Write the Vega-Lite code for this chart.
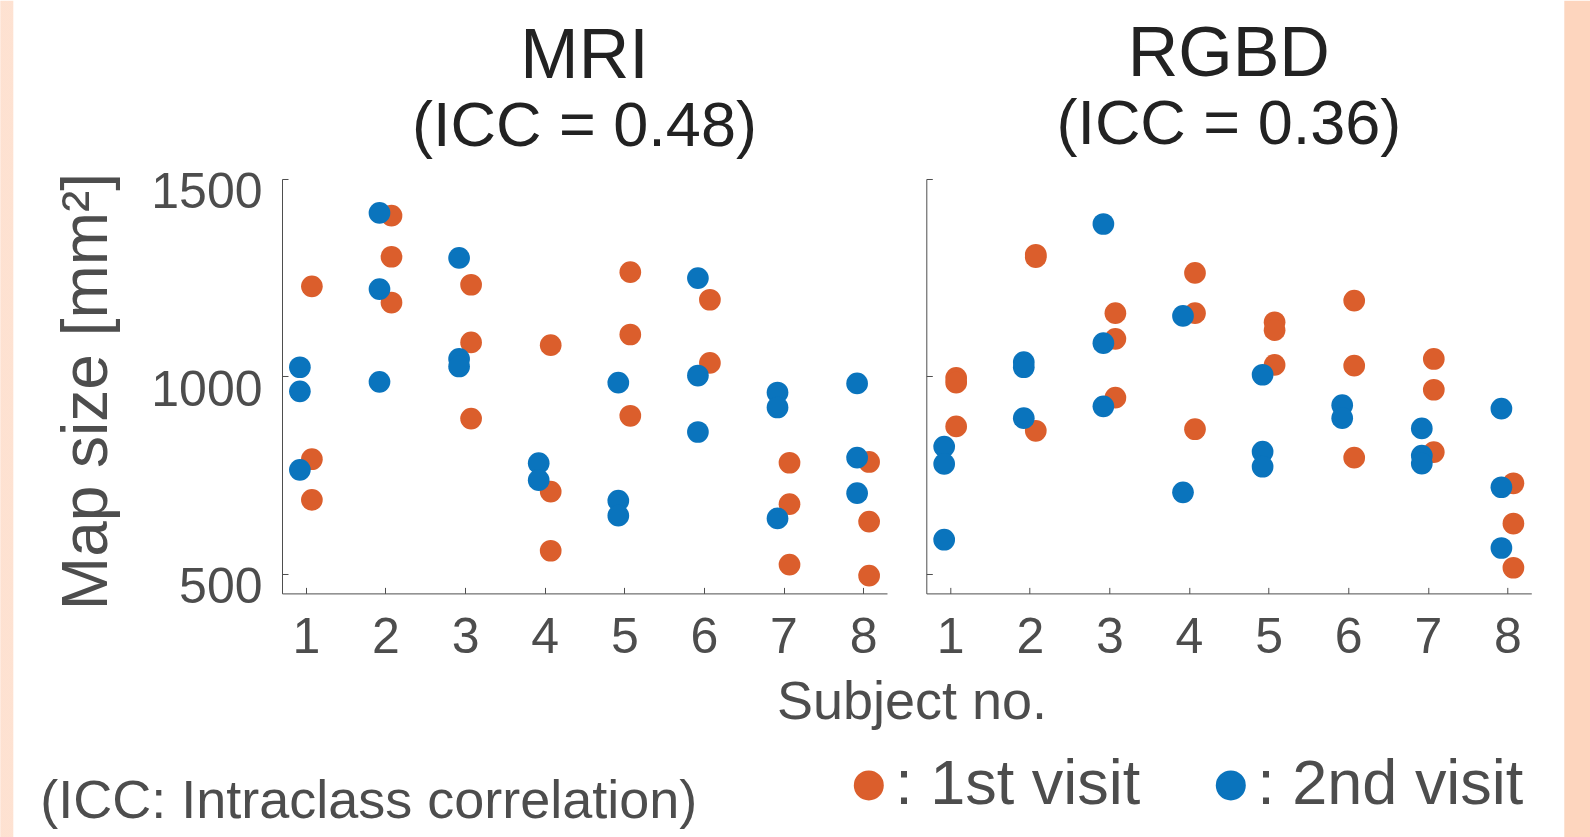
{
  "$schema": "https://vega.github.io/schema/vega-lite/v6.json",
  "padding": 0,
  "background": "white",
  "data": {"values": [
    {"panel": "MRI", "subject": 1, "visit": "1st visit", "size": 1228},
    {"panel": "MRI", "subject": 1, "visit": "1st visit", "size": 790},
    {"panel": "MRI", "subject": 1, "visit": "1st visit", "size": 687},
    {"panel": "MRI", "subject": 1, "visit": "2nd visit", "size": 1023},
    {"panel": "MRI", "subject": 1, "visit": "2nd visit", "size": 962},
    {"panel": "MRI", "subject": 1, "visit": "2nd visit", "size": 763},
    {"panel": "MRI", "subject": 2, "visit": "1st visit", "size": 1407},
    {"panel": "MRI", "subject": 2, "visit": "1st visit", "size": 1303},
    {"panel": "MRI", "subject": 2, "visit": "1st visit", "size": 1187},
    {"panel": "MRI", "subject": 2, "visit": "2nd visit", "size": 1414},
    {"panel": "MRI", "subject": 2, "visit": "2nd visit", "size": 1221},
    {"panel": "MRI", "subject": 2, "visit": "2nd visit", "size": 986},
    {"panel": "MRI", "subject": 3, "visit": "1st visit", "size": 1232},
    {"panel": "MRI", "subject": 3, "visit": "1st visit", "size": 1086},
    {"panel": "MRI", "subject": 3, "visit": "1st visit", "size": 893},
    {"panel": "MRI", "subject": 3, "visit": "2nd visit", "size": 1300},
    {"panel": "MRI", "subject": 3, "visit": "2nd visit", "size": 1044},
    {"panel": "MRI", "subject": 3, "visit": "2nd visit", "size": 1025},
    {"panel": "MRI", "subject": 4, "visit": "1st visit", "size": 1079},
    {"panel": "MRI", "subject": 4, "visit": "1st visit", "size": 708},
    {"panel": "MRI", "subject": 4, "visit": "1st visit", "size": 558},
    {"panel": "MRI", "subject": 4, "visit": "2nd visit", "size": 780},
    {"panel": "MRI", "subject": 4, "visit": "2nd visit", "size": 737},
    {"panel": "MRI", "subject": 5, "visit": "1st visit", "size": 1264},
    {"panel": "MRI", "subject": 5, "visit": "1st visit", "size": 1106},
    {"panel": "MRI", "subject": 5, "visit": "1st visit", "size": 900},
    {"panel": "MRI", "subject": 5, "visit": "2nd visit", "size": 984},
    {"panel": "MRI", "subject": 5, "visit": "2nd visit", "size": 685},
    {"panel": "MRI", "subject": 5, "visit": "2nd visit", "size": 647},
    {"panel": "MRI", "subject": 6, "visit": "1st visit", "size": 1194},
    {"panel": "MRI", "subject": 6, "visit": "1st visit", "size": 1034},
    {"panel": "MRI", "subject": 6, "visit": "2nd visit", "size": 1249},
    {"panel": "MRI", "subject": 6, "visit": "2nd visit", "size": 1002},
    {"panel": "MRI", "subject": 6, "visit": "2nd visit", "size": 859},
    {"panel": "MRI", "subject": 7, "visit": "1st visit", "size": 781},
    {"panel": "MRI", "subject": 7, "visit": "1st visit", "size": 676},
    {"panel": "MRI", "subject": 7, "visit": "1st visit", "size": 523},
    {"panel": "MRI", "subject": 7, "visit": "2nd visit", "size": 959},
    {"panel": "MRI", "subject": 7, "visit": "2nd visit", "size": 921},
    {"panel": "MRI", "subject": 7, "visit": "2nd visit", "size": 640},
    {"panel": "MRI", "subject": 8, "visit": "1st visit", "size": 783},
    {"panel": "MRI", "subject": 8, "visit": "1st visit", "size": 632},
    {"panel": "MRI", "subject": 8, "visit": "1st visit", "size": 495},
    {"panel": "MRI", "subject": 8, "visit": "2nd visit", "size": 982},
    {"panel": "MRI", "subject": 8, "visit": "2nd visit", "size": 794},
    {"panel": "MRI", "subject": 8, "visit": "2nd visit", "size": 704},
    {"panel": "RGBD", "subject": 1, "visit": "1st visit", "size": 996},
    {"panel": "RGBD", "subject": 1, "visit": "1st visit", "size": 984},
    {"panel": "RGBD", "subject": 1, "visit": "1st visit", "size": 873},
    {"panel": "RGBD", "subject": 1, "visit": "2nd visit", "size": 822},
    {"panel": "RGBD", "subject": 1, "visit": "2nd visit", "size": 778},
    {"panel": "RGBD", "subject": 1, "visit": "2nd visit", "size": 586},
    {"panel": "RGBD", "subject": 2, "visit": "1st visit", "size": 1308},
    {"panel": "RGBD", "subject": 2, "visit": "1st visit", "size": 1302},
    {"panel": "RGBD", "subject": 2, "visit": "1st visit", "size": 862},
    {"panel": "RGBD", "subject": 2, "visit": "2nd visit", "size": 1036},
    {"panel": "RGBD", "subject": 2, "visit": "2nd visit", "size": 1023},
    {"panel": "RGBD", "subject": 2, "visit": "2nd visit", "size": 894},
    {"panel": "RGBD", "subject": 3, "visit": "1st visit", "size": 1160},
    {"panel": "RGBD", "subject": 3, "visit": "1st visit", "size": 1095},
    {"panel": "RGBD", "subject": 3, "visit": "1st visit", "size": 946},
    {"panel": "RGBD", "subject": 3, "visit": "2nd visit", "size": 1386},
    {"panel": "RGBD", "subject": 3, "visit": "2nd visit", "size": 1084},
    {"panel": "RGBD", "subject": 3, "visit": "2nd visit", "size": 924},
    {"panel": "RGBD", "subject": 4, "visit": "1st visit", "size": 1262},
    {"panel": "RGBD", "subject": 4, "visit": "1st visit", "size": 1160},
    {"panel": "RGBD", "subject": 4, "visit": "1st visit", "size": 866},
    {"panel": "RGBD", "subject": 4, "visit": "2nd visit", "size": 1153},
    {"panel": "RGBD", "subject": 4, "visit": "2nd visit", "size": 706},
    {"panel": "RGBD", "subject": 5, "visit": "1st visit", "size": 1137},
    {"panel": "RGBD", "subject": 5, "visit": "1st visit", "size": 1117},
    {"panel": "RGBD", "subject": 5, "visit": "1st visit", "size": 1029},
    {"panel": "RGBD", "subject": 5, "visit": "2nd visit", "size": 1004},
    {"panel": "RGBD", "subject": 5, "visit": "2nd visit", "size": 809},
    {"panel": "RGBD", "subject": 5, "visit": "2nd visit", "size": 771},
    {"panel": "RGBD", "subject": 6, "visit": "1st visit", "size": 1192},
    {"panel": "RGBD", "subject": 6, "visit": "1st visit", "size": 1027},
    {"panel": "RGBD", "subject": 6, "visit": "1st visit", "size": 794},
    {"panel": "RGBD", "subject": 6, "visit": "2nd visit", "size": 927},
    {"panel": "RGBD", "subject": 6, "visit": "2nd visit", "size": 894},
    {"panel": "RGBD", "subject": 7, "visit": "1st visit", "size": 1044},
    {"panel": "RGBD", "subject": 7, "visit": "1st visit", "size": 966},
    {"panel": "RGBD", "subject": 7, "visit": "1st visit", "size": 808},
    {"panel": "RGBD", "subject": 7, "visit": "2nd visit", "size": 868},
    {"panel": "RGBD", "subject": 7, "visit": "2nd visit", "size": 799},
    {"panel": "RGBD", "subject": 7, "visit": "2nd visit", "size": 779},
    {"panel": "RGBD", "subject": 8, "visit": "1st visit", "size": 729},
    {"panel": "RGBD", "subject": 8, "visit": "1st visit", "size": 627},
    {"panel": "RGBD", "subject": 8, "visit": "1st visit", "size": 515},
    {"panel": "RGBD", "subject": 8, "visit": "2nd visit", "size": 918},
    {"panel": "RGBD", "subject": 8, "visit": "2nd visit", "size": 719},
    {"panel": "RGBD", "subject": 8, "visit": "2nd visit", "size": 565}
  ]},
  "spacing": 39.3,
  "bounds": "flush",
  "hconcat": [
    {
      "title": {"text": "MRI", "subtitle": "(ICC = 0.48)", "offset": 8},
      "width": 605, "height": 414.4,
      "transform": [{"filter": "datum.panel === 'MRI'"}],
      "mark": {"type": "point", "shape": "circle", "filled": true, "size": 471, "strokeWidth": 0},
      "encoding": {
        "x": {"field": "subject", "type": "ordinal", "scale": {"type": "point", "padding": 0.3},
              "axis": {"title": "Subject no.", "titleX": 629.5, "titleY": 125, "titleBaseline": "alphabetic", "titleFontSize": 54, "labelAngle": 0, "labelPadding": 25}},
        "xOffset": {"field": "visit", "type": "nominal", "scale": {"domain": ["2nd visit", "1st visit"], "range": [-12, 12]}},
        "y": {"field": "size", "type": "quantitative", "scale": {"domain": [450, 1500], "nice": false, "zero": false},
              "axis": {"title": "Map size [mm²]", "values": [500, 1000, 1500], "format": "d", "labelPadding": 26, "labelOffset": 14, "titleX": -175.7, "titleY": 212, "titleBaseline": "alphabetic", "titleFontSize": 64}},
        "color": {"field": "visit", "type": "nominal", "scale": {"domain": ["1st visit", "2nd visit"], "range": ["#DB5E2C", "#0A74BD"]},
                  "legend": {"orient": "none", "legendX": -241.7, "legendY": 574.7, "direction": "horizontal", "padding": 0,
                             "title": "(ICC: Intraclass correlation)", "titleOrient": "left", "titlePadding": 139, "titleLimit": 1000,
                             "titleAnchor": "end", "titleBaseline": "alphabetic",
                             "titleFontSize": 54, "titleFontWeight": "normal", "titleColor": "#4D4D4D",
                             "labelExpr": "': ' + datum.label", "labelFontSize": 63, "labelColor": "#4D4D4D", "labelOffset": -5, "labelLimit": 1000,
                             "symbolType": "circle", "symbolSize": 900, "symbolStrokeWidth": 0, "symbolOpacity": 1, "columnPadding": 58,
                             "encode": {"symbols": {"update": {"opacity": {"value": 1}, "fillOpacity": {"value": 1}}}}}},
        "stroke": {"field": "size", "type": "quantitative", "scale": {"domain": [450, 1500], "range": ["#FDD5BE", "#FDD5BE"]},
                   "legend": {"orient": "none", "legendX": -281.7, "legendY": -178.3, "direction": "vertical", "title": null, "padding": 0,
                              "gradientLength": 837, "gradientThickness": 13, "gradientStrokeWidth": 0,
                              "values": [], "labelOpacity": 0, "labelFontSize": 1}},
        "opacity": {"field": "panel", "type": "nominal", "scale": {"domain": ["MRI", "RGBD"], "range": [1, 1]},
                    "legend": {"orient": "none", "legendX": 1282.3, "legendY": 227.2, "title": null, "padding": 0, "values": ["MRI"],
                               "symbolType": "M-1,-32.19H1V32.19H-1Z", "symbolSize": 676, "symbolFillColor": "#FDD5BE", "symbolStrokeWidth": 0, "symbolOpacity": 1,
                               "labelExpr": "''", "labelFontSize": 1, "labelOffset": 0,
                               "encode": {"symbols": {"update": {"fill": {"value": "#FDD5BE"}, "opacity": {"value": 1}}}}}}
      }
    },
    {
      "title": {"text": "RGBD", "subtitle": "(ICC = 0.36)", "offset": 20},
      "width": 605, "height": 414.4,
      "transform": [{"filter": "datum.panel === 'RGBD'"}],
      "mark": {"type": "point", "shape": "circle", "filled": true, "size": 471, "strokeWidth": 0},
      "encoding": {
        "x": {"field": "subject", "type": "ordinal", "scale": {"type": "point", "padding": 0.3},
              "axis": {"title": null, "labelAngle": 0, "labelPadding": 25}},
        "xOffset": {"field": "visit", "type": "nominal", "scale": {"domain": ["2nd visit", "1st visit"], "range": [-12, 12]}},
        "y": {"field": "size", "type": "quantitative", "scale": {"domain": [450, 1500], "nice": false, "zero": false},
              "axis": {"title": null, "values": [500, 1000, 1500], "labels": false}},
        "color": {"field": "visit", "type": "nominal", "scale": {"domain": ["1st visit", "2nd visit"], "range": ["#DB5E2C", "#0A74BD"]}},
        "stroke": {"field": "size", "type": "quantitative", "scale": {"domain": [450, 1500], "range": ["#FDD5BE", "#FDD5BE"]}},
        "opacity": {"field": "panel", "type": "nominal", "scale": {"domain": ["MRI", "RGBD"], "range": [1, 1]}}
      }
    }
  ],
  "config": {
    "font": "Liberation Sans",
    "view": {"stroke": null},
    "axis": {"grid": false, "domainColor": "#4D4D4D", "tickColor": "#4D4D4D", "domainWidth": 1, "tickWidth": 1, "tickSize": -6,
             "labelColor": "#4D4D4D", "labelFontSize": 50, "labelFont": "Liberation Sans", "titleFont": "Liberation Sans",
             "titleColor": "#4D4D4D", "titleFontWeight": "normal"},
    "legend": {"labelFont": "Liberation Sans", "titleFont": "Liberation Sans"},
    "title": {"font": "Liberation Sans", "fontSize": 70, "fontWeight": "normal", "color": "#222222",
              "subtitleFont": "Liberation Sans", "subtitleFontSize": 63, "subtitleColor": "#222222",
              "anchor": "middle", "subtitlePadding": 0}
  }
}
